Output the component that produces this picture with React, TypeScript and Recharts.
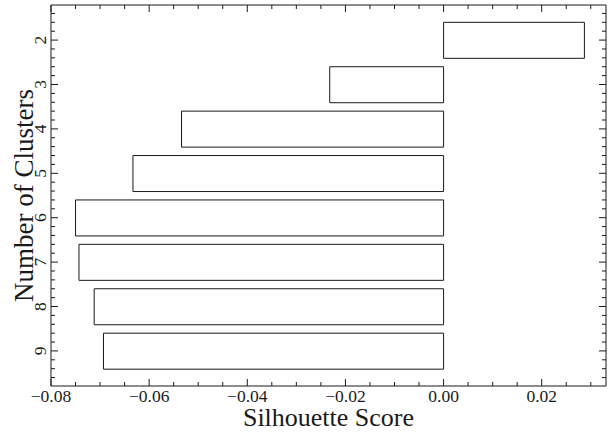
import React from 'react';
import { BarChart, Bar, XAxis, YAxis, Label } from 'recharts';

const clusters = ['2', '3', '4', '5', '6', '7', '8', '9'];
const scores = [0.0287, -0.0232, -0.0534, -0.0633, -0.075, -0.0743, -0.0712, -0.0693];

const xMajorTicks = [-0.08, -0.06, -0.04, -0.02, 0.0, 0.02];
const xTickLabels = ['\u22120.08', '\u22120.06', '\u22120.04', '\u22120.02', '0.00', '0.02'];
const xMinorTicks = [-0.075, -0.07, -0.065, -0.055, -0.05, -0.045, -0.035, -0.03, -0.025, -0.015, -0.01, -0.005, 0.005, 0.01, 0.015, 0.025, 0.03];

// minor y ticks, as offsets (in cluster units) from each major tick
const yMinorAfter = [0.2, 0.4, 0.6, 0.8];
const yMinorBefore = [-0.2, -0.4, -0.6];
const yMinorLast = [0.2, 0.4, 0.6];

const xDomain: [number, number] = [-0.08, 0.0331];
const yDomain: [number, number] = [1.21, 9.79];

const data = clusters.map((k, i) => ({ k, v: scores[i] }));

const W = 608;
const H = 434;
const margin = { top: 4, right: 1, bottom: 47, left: 50 };
const plotH = H - margin.top - margin.bottom - 2;
const unitPx = plotH / (yDomain[1] - yDomain[0]);
// category band padding so that category centers align with the numeric domain
const catPad = (1.5 - yDomain[0]) * unitPx;

const FONT = '"Liberation Serif", "DejaVu Serif", serif';
const INK = '#1a1a1a';
const MAJOR = 7;
const MINOR = 4;
const XMARGIN = 3.5;
const YMARGIN = 4.5;
const TICK_FS = 17.5;

const findIdx = (arr: number[], v: number) => arr.findIndex((t) => Math.abs(t - v) < 1e-9);

const BottomTick = (props: any) => {
  const { x, y, payload } = props;
  const idx = findIdx(xMajorTicks, payload.value);
  const y1 = y - XMARGIN;
  const len = idx >= 0 ? MAJOR : MINOR;
  return (
    <g>
      <line x1={x} x2={x} y1={y1} y2={y1 - len} stroke={INK} strokeWidth={1} />
      {idx >= 0 && (
        <text x={x} y={y} dy="0.71em" textAnchor="middle" fontFamily={FONT} fontSize={TICK_FS} fill={INK}>
          {xTickLabels[idx]}
        </text>
      )}
    </g>
  );
};

const TopTick = (props: any) => {
  const { x, y, payload } = props;
  const idx = findIdx(xMajorTicks, payload.value);
  const len = idx >= 0 ? MAJOR : MINOR;
  return <line x1={x} x2={x} y1={y} y2={y + len} stroke={INK} strokeWidth={1} />;
};

const yMinorOffsets = (index: number, count: number) => {
  const offs: number[] = [];
  if (index < count - 1) offs.push(...yMinorAfter);
  if (index === 0) offs.push(...yMinorBefore);
  if (index === count - 1) offs.push(...yMinorLast);
  return offs;
};

const LeftTick = (props: any) => {
  const { x, y, payload, index, visibleTicksCount } = props;
  const x1 = x + YMARGIN;
  const offs = yMinorOffsets(index, visibleTicksCount ?? clusters.length);
  return (
    <g>
      <line x1={x1} x2={x1 + MAJOR} y1={y} y2={y} stroke={INK} strokeWidth={1} />
      {offs.map((o, i) => (
        <line key={i} x1={x1} x2={x1 + MINOR} y1={y + o * unitPx} y2={y + o * unitPx} stroke={INK} strokeWidth={1} />
      ))}
      <text x={x} y={y} transform={`rotate(-90, ${x}, ${y})`} textAnchor="middle" fontFamily={FONT} fontSize={TICK_FS} fill={INK}>
        {payload.value}
      </text>
    </g>
  );
};

const RightTick = (props: any) => {
  const { x, y, index, visibleTicksCount } = props;
  const offs = yMinorOffsets(index, visibleTicksCount ?? clusters.length);
  return (
    <g>
      <line x1={x} x2={x - MAJOR} y1={y} y2={y} stroke={INK} strokeWidth={1} />
      {offs.map((o, i) => (
        <line key={i} x1={x} x2={x - MINOR} y1={y + o * unitPx} y2={y + o * unitPx} stroke={INK} strokeWidth={1} />
      ))}
    </g>
  );
};

const XLabel = (props: any) => {
  const vb = props.viewBox || {};
  return (
    <text x={vb.x + vb.width / 2} y={vb.y + 40} textAnchor="middle" fontFamily={FONT} fontSize={26} fill={INK}>
      Silhouette Score
    </text>
  );
};

const YLabel = (props: any) => {
  const vb = props.viewBox || {};
  const cx = vb.x - 17;
  const cy = vb.y + vb.height / 2;
  return (
    <text x={cx} y={cy} transform={`rotate(-90, ${cx}, ${cy})`} textAnchor="middle" fontFamily={FONT} fontSize={27} fill={INK}>
      Number of Clusters
    </text>
  );
};

const allX = [...xMajorTicks, ...xMinorTicks].sort((a, b) => a - b);

export default function App() {
  return (
    <div style={{ position: 'absolute', left: 0, top: 0, width: W, height: H, background: '#fff' }}>
      <BarChart width={W} height={H} data={data} layout="vertical" margin={margin} barCategoryGap="10%">
        <XAxis
          xAxisId="x"
          type="number"
          dataKey="v"
          orientation="bottom"
          domain={xDomain}
          allowDataOverflow
          ticks={allX}
          interval={0}
          height={1}
          tickSize={0}
          tickMargin={XMARGIN}
          tickLine={false}
          tick={BottomTick}
          axisLine={{ stroke: INK, strokeWidth: 1 }}
        >
          <Label content={XLabel} />
        </XAxis>
        <XAxis
          xAxisId="xt"
          type="number"
          dataKey="v"
          orientation="top"
          domain={xDomain}
          allowDataOverflow
          ticks={allX}
          interval={0}
          height={1}
          tickSize={0}
          tickMargin={0}
          tickLine={false}
          tick={TopTick}
          axisLine={{ stroke: INK, strokeWidth: 1 }}
        />
        <YAxis
          yAxisId="cat"
          type="category"
          dataKey="k"
          orientation="left"
          width={1}
          padding={{ top: catPad, bottom: catPad }}
          interval={0}
          tickSize={0}
          tickMargin={YMARGIN}
          tickLine={false}
          tick={LeftTick}
          axisLine={{ stroke: INK, strokeWidth: 1 }}
        >
          <Label content={YLabel} />
        </YAxis>
        <YAxis
          yAxisId="catr"
          type="category"
          dataKey="k"
          orientation="right"
          width={1}
          padding={{ top: catPad, bottom: catPad }}
          interval={0}
          tickSize={0}
          tickMargin={0}
          tickLine={false}
          tick={RightTick}
          axisLine={{ stroke: INK, strokeWidth: 1 }}
        />
        <Bar
          dataKey="v"
          xAxisId="x"
          yAxisId="cat"
          fill="#ffffff"
          stroke={INK}
          strokeWidth={1}
          isAnimationActive={false}
        />
      </BarChart>
    </div>
  );
}
